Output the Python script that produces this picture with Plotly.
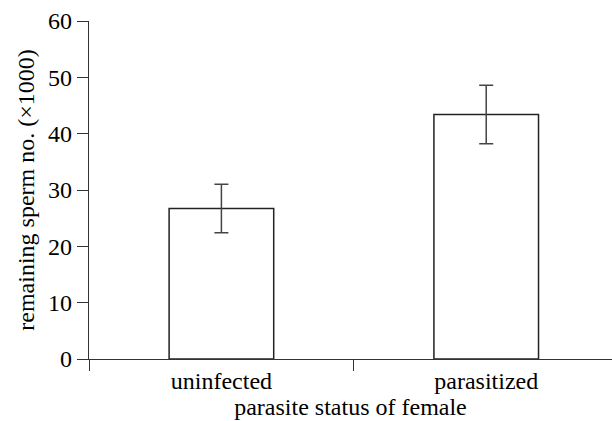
import plotly.graph_objects as go

categories = ["uninfected", "parasitized"]
means = [26.7, 43.4]
errors = [4.3, 5.2]
y_ticks = [0, 10, 20, 30, 40, 50, 60]

font_family = "Liberation Serif, Times New Roman, serif"

fig = go.Figure()
fig.add_trace(go.Bar(
    x=categories,
    y=means,
    width=0.395,
    marker=dict(color="white", line=dict(color="#222222", width=1.5)),
    error_y=dict(type="data", array=errors, visible=True,
                 color="#444444", thickness=1.5, width=7),
    showlegend=False,
))

fig.update_layout(
    width=612, height=421,
    margin=dict(l=89, r=0, t=21, b=62),
    plot_bgcolor="white", paper_bgcolor="white",
    font=dict(family=font_family, size=24, color="black"),
)
fig.update_xaxes(
    type="category",
    range=[-0.5, 1.475],
    showline=True, linecolor="#333333", linewidth=1.2,
    ticks="outside", tickson="boundaries", ticklen=11,
    tickcolor="#333333", tickwidth=1.2,
    showgrid=False, zeroline=False,
    tickfont=dict(size=24),
    title=dict(text="parasite status of female", font=dict(size=24), standoff=0),
)
fig.update_yaxes(
    range=[0, 60],
    tickvals=y_ticks,
    showline=True, linecolor="#333333", linewidth=1.2,
    ticks="outside", ticklen=11, tickcolor="#333333", tickwidth=1.2,
    showgrid=False, zeroline=False,
    tickfont=dict(size=24),
    title=dict(text="remaining sperm no. (×1000)", font=dict(size=24), standoff=6),
)

fig.write_html("out.html",
               config={"displayModeBar": False},
               post_script="document.body.style.margin='0';document.body.style.overflow='hidden';")
